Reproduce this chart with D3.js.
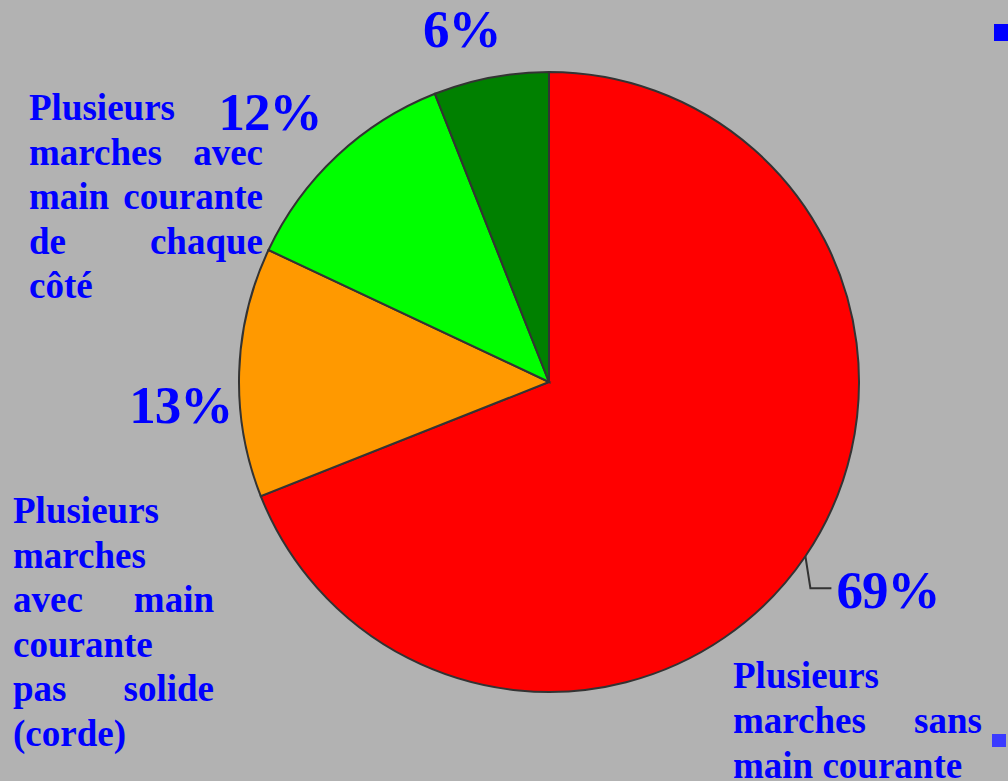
<!DOCTYPE html>
<html>
<head>
<meta charset="utf-8">
<script src="https://cdn.jsdelivr.net/npm/d3@7"></script>
<style>
  html, body { margin: 0; padding: 0; background: #b2b2b2; }
  svg { display: block; }
  .pct { font-family: "Liberation Serif", "Times New Roman", serif; font-weight: bold; font-size: 53px; fill: #0000ff; letter-spacing: -1px; }
  .cat { font-family: "Liberation Serif", "Times New Roman", serif; font-weight: bold; font-size: 37px; fill: #0000ff; }
</style>
</head>
<body>
<div id="chart"></div>
<script>
(function() {
  var width = 1008, height = 781;

  // data
  var categories = ['sans', 'corde', 'chaque', 'autre'];
  var values = [69, 13, 12, 6];
  var colors = ['#ff0000', '#ff9900', '#00ff00', '#008000'];

  // category text, one entry per line
  var labelSansLines = ['Plusieurs', 'marches sans', 'main courante'];
  var labelCordeLines = ['Plusieurs', 'marches', 'avec main', 'courante', 'pas solide', '(corde)'];
  var labelChaqueLines = ['Plusieurs', 'marches avec', 'main courante', 'de chaque', 'côté'];

  var cx = 549, cy = 382, radius = 310;

  var svg = d3.select("#chart")
      .append("svg")
      .attr("width", width)
      .attr("height", height);

  svg.append("rect")
      .attr("width", width)
      .attr("height", height)
      .attr("fill", "#b2b2b2");

  var pie = d3.pie().sort(null).value(function(d) { return d; });
  var arc = d3.arc().innerRadius(0).outerRadius(radius);
  var arcs = pie(values);

  var g = svg.append("g")
      .attr("transform", "translate(" + cx + "," + cy + ")");

  g.selectAll(".slice")
      .data(arcs)
      .enter().append("path")
      .attr("class", "slice")
      .attr("d", arc)
      .attr("fill", function(d, i) { return colors[i]; })
      .attr("stroke", "#333333")
      .attr("stroke-width", 2);

  function polar(angle, r) {
    return [r * Math.sin(angle), -r * Math.cos(angle)];
  }

  function mid(d) { return (d.startAngle + d.endAngle) / 2; }

  // label placement: angle nudge (deg) and radius
  var labelPlace = [null, [-5.5, 369], [-2.8, 388], [-3.1, 363]];

  arcs.forEach(function(d, i) {
    if (i === 0) {
      // leader line for the big slice
      var a = mid(d);
      var p0 = polar(a, radius);
      var p1 = [p0[0] + 5, p0[1] + 32];
      var p2 = [p1[0] + 21, p1[1]];
      g.append("path")
          .attr("d", d3.line()([p0, p1, p2]))
          .attr("fill", "none")
          .attr("stroke", "#333333")
          .attr("stroke-width", 2);
      g.append("text")
          .attr("class", "pct")
          .attr("x", p2[0] + 5)
          .attr("y", p2[1] + 20)
          .text(values[i] + "%");
    } else {
      var pl = labelPlace[i];
      var p = polar(mid(d) + pl[0] * Math.PI / 180, pl[1]);
      g.append("text")
          .attr("class", "pct")
          .attr("x", p[0])
          .attr("y", p[1])
          .attr("dy", "0.33em")
          .attr("text-anchor", "middle")
          .text(values[i] + "%");
    }
  });

  // justified block of text (last line and single words left aligned)
  function block(lines, x, y, w, lh) {
    lines.forEach(function(line, li) {
      var words = line.split(" ");
      var yy = y + li * lh;
      if (li === lines.length - 1 || words.length === 1) {
        svg.append("text").attr("class", "cat").attr("x", x).attr("y", yy).text(line);
        return;
      }
      var nodes = words.map(function(wd) {
        return svg.append("text").attr("class", "cat").attr("y", yy).text(wd);
      });
      var total = d3.sum(nodes, function(n) { return n.node().getComputedTextLength(); });
      var gap = (w - total) / (words.length - 1);
      var xx = x;
      nodes.forEach(function(n) {
        n.attr("x", xx);
        xx += n.node().getComputedTextLength() + gap;
      });
    });
  }

  block(labelChaqueLines, 29, 120, 234, 44.5);
  block(labelCordeLines, 13, 523, 201, 44.5);
  block(labelSansLines, 733, 688, 249, 45);

  // legend markers cut off at the right edge
  svg.append("rect")
      .attr("x", 994).attr("y", 24)
      .attr("width", 16).attr("height", 17)
      .attr("fill", "#0000ff");
  svg.append("rect")
      .attr("x", 992).attr("y", 734)
      .attr("width", 14).attr("height", 13)
      .attr("fill", "#3b3bff");
})();
</script>
</body>
</html>
